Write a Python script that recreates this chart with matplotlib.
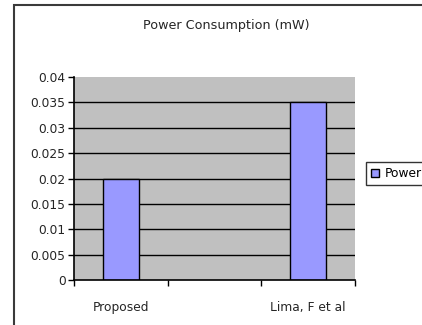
import numpy as np
import matplotlib
matplotlib.use("Agg")
import matplotlib.pyplot as plt
from matplotlib.patches import Rectangle

categories = ["Proposed", "", "Lima, F et al"]
power = [0.02, np.nan, 0.035]
yticks = [0, 0.005, 0.01, 0.015, 0.02, 0.025, 0.03, 0.035, 0.04]
ytick_labels = ["0", "0.005", "0.01", "0.015", "0.02", "0.025", "0.03", "0.035", "0.04"]

plt.rcParams['font.family'] = ['DejaVu Sans']

fig = plt.figure(figsize=(4.22, 3.25), dpi=100)
fig.patch.set_facecolor("white")

# outer chart-area border (extends beyond the cropped image)
fig.patches.append(Rectangle((14/422, -0.1), 1.2, 1 - 5/325 + 0.1,
                             transform=fig.transFigure, fill=False,
                             edgecolor="#3a3a3a", linewidth=1.5, clip_on=False))

ax = fig.add_axes([74/422, 1 - 280/325, (355 - 74)/422, (280 - 77)/325])
ax.set_facecolor("#C0C0C0")

x = np.arange(len(categories))
ax.bar(x, power, width=0.39, color="#9999FF", edgecolor="black",
       linewidth=1.0, label="Power", zorder=3)

ax.set_xlim(-0.5, len(categories) - 0.5)
ax.set_ylim(0, 0.04)
ax.set_yticks(yticks)
ax.set_yticklabels(ytick_labels)
for v in yticks[1:-1]:
    ax.axhline(v, color="black", linewidth=1.0, zorder=1)

fs = 8.8
ax.set_xticks(x)
ax.set_xticklabels(categories)
ax.set_xticks(np.arange(-0.5, len(categories), 1.0), minor=True)
ax.tick_params(axis="x", which="major", length=0, pad=15, labelsize=fs, colors="#252525")
ax.tick_params(axis="x", which="minor", length=4, width=1.0, direction="out")
ax.tick_params(axis="y", length=4, width=1.0, direction="out", labelsize=fs,
               pad=2, colors="#252525")
ax.tick_params(axis="both", which="both", color="black")

for s in ["top", "right"]:
    ax.spines[s].set_visible(False)
for s in ["left", "bottom"]:
    ax.spines[s].set_color("black")
    ax.spines[s].set_linewidth(1.2)
ax.spines["left"].set_zorder(4)
ax.spines["bottom"].set_zorder(4)

fig.text(226/422, 1 - 25/325, "Power Consumption (mW)", ha="center", va="center",
         fontsize=fs + 0.4, color="#252525")

leg = fig.legend(loc="upper left", bbox_to_anchor=(366/422, 1 - 162/325),
                 frameon=True, fontsize=fs, handlelength=0.65, handleheight=0.65,
                 handletextpad=0.45, borderpad=0.4, borderaxespad=0,
                 fancybox=False)
leg.get_frame().set_edgecolor("black")
leg.get_frame().set_linewidth(1.0)

fig.savefig("out.png", dpi=100)
